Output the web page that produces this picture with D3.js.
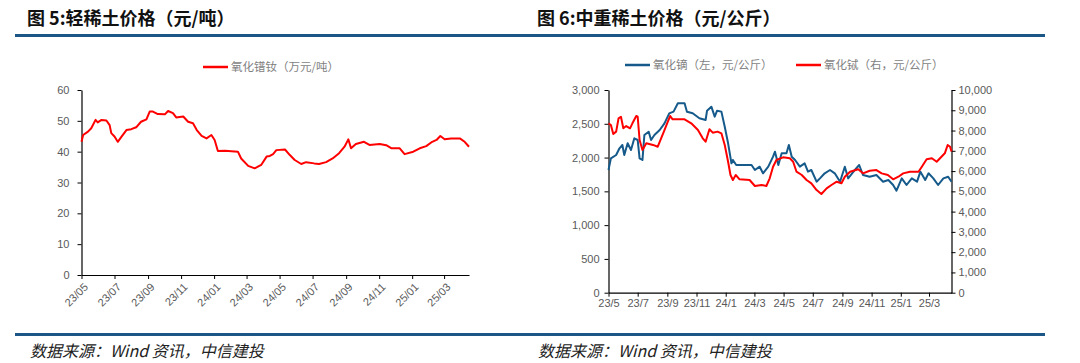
<!DOCTYPE html>
<html>
<head>
<meta charset="utf-8">
<style>
  body { margin: 0; background: #ffffff; }
  svg { display: block; }
  .tick text { font-family: "Liberation Sans", Arial, sans-serif; fill: #595959; }
</style>
<script src="https://d3js.org/d3.v7.min.js"></script>
</head>
<body>
<svg id="chart" width="1080" height="363"></svg>
<script>
// 氧化镨钕 (万元/吨)
let prDates = ["2023-05-01","2023-05-04","2023-05-13","2023-05-19","2023-05-27","2023-05-31","2023-06-07","2023-06-16",
  "2023-06-22","2023-06-25","2023-07-01","2023-07-07","2023-07-14","2023-07-23","2023-08-01","2023-08-10","2023-08-19",
  "2023-08-29","2023-09-04","2023-09-10","2023-09-19","2023-10-02","2023-10-08","2023-10-17","2023-10-23","2023-11-05",
  "2023-11-14","2023-11-23","2023-11-30","2023-12-09","2023-12-18","2023-12-27","2024-01-02","2024-01-08","2024-01-21",
  "2024-02-14","2024-02-20","2024-03-04","2024-03-16","2024-03-28","2024-04-07","2024-04-13","2024-04-19","2024-04-25",
  "2024-05-11","2024-05-20","2024-05-29","2024-06-10","2024-06-19","2024-07-04","2024-07-13","2024-07-26","2024-08-07",
  "2024-08-19","2024-08-29","2024-09-05","2024-09-10","2024-09-19","2024-10-04","2024-10-14","2024-11-02","2024-11-14",
  "2024-11-24","2024-12-09","2024-12-18","2025-01-03","2025-01-15","2025-01-27","2025-02-07","2025-02-15","2025-02-22",
  "2025-03-02","2025-03-14","2025-03-30","2025-04-08","2025-04-16"]
let prValues = [43.2,45.4,46.5,47.6,50.3,49.5,50.3,50.1,
  48.6,46.0,44.9,43.2,44.9,47.0,47.3,47.9,49.7,
  50.5,53.0,53.0,52.2,52.1,53.2,52.5,51.1,51.4,
  49.7,49.2,47.0,45.1,44.3,45.4,43.8,40.2,40.3,
  40.0,37.8,35.4,34.6,35.7,38.4,38.6,39.2,40.5,
  40.7,38.9,37.3,36.0,36.6,36.2,36.0,36.6,37.8,
  39.5,41.6,44.0,41.1,42.5,43.2,42.2,42.5,42.1,
  41.1,41.1,39.2,40.0,41.1,41.8,43.2,43.8,45.1,
  44.0,44.3,44.3,43.2,41.6]
let leftYTicks = [0, 10, 20, 30, 40, 50, 60]
let leftXTicks = ["2023-05-01","2023-07-01","2023-09-01","2023-11-01","2024-01-01","2024-03-01",
  "2024-05-01","2024-07-01","2024-09-01","2024-11-01","2025-01-01","2025-03-01"]

// 氧化镝 (左, 元/公斤)
let dyDates = ["2023-05-01","2023-05-06","2023-05-17","2023-05-24","2023-05-30","2023-06-03","2023-06-10","2023-06-17",
  "2023-06-24","2023-07-01","2023-07-05","2023-07-11","2023-07-15","2023-07-24","2023-07-29","2023-08-05","2023-08-16",
  "2023-08-26","2023-09-05","2023-09-14","2023-09-23","2023-10-07","2023-10-12","2023-10-24","2023-11-07","2023-11-20",
  "2023-11-23","2023-12-02","2023-12-09","2023-12-14","2023-12-23","2023-12-30","2024-01-06","2024-01-13","2024-01-16",
  "2024-01-23","2024-02-24","2024-03-02","2024-03-12","2024-03-19","2024-03-30","2024-04-09","2024-04-13","2024-04-20",
  "2024-04-27","2024-05-07","2024-05-12","2024-05-18","2024-05-25","2024-06-04","2024-06-14","2024-06-21","2024-06-28",
  "2024-07-09","2024-07-16","2024-07-26","2024-08-06","2024-08-16","2024-08-27","2024-09-06","2024-09-13","2024-09-27",
  "2024-10-06","2024-10-14","2024-10-28","2024-11-11","2024-11-25","2024-12-06","2024-12-16","2024-12-23","2025-01-03",
  "2025-01-13","2025-01-24","2025-02-04","2025-02-11","2025-02-21","2025-02-28","2025-03-10","2025-03-20","2025-03-31",
  "2025-04-10","2025-04-17"]
let dyValues = [1816,1989,2038,2137,2186,2038,2211,2112,
  2285,2260,1989,1964,2334,2383,2260,2334,2408,
  2507,2655,2680,2803,2803,2679,2655,2581,2557,
  2694,2753,2605,2694,2680,2457,2211,1915,1964,
  1890,1890,1816,1865,1767,1865,2013,2087,1890,
  2063,2063,2186,2013,1964,1865,1915,1791,1816,
  1643,1692,1767,1816,1767,1643,1865,1692,1816,
  1890,1742,1717,1742,1643,1668,1594,1510,1692,
  1594,1692,1643,1791,1668,1767,1692,1594,1692,
  1717,1643]

// 氧化铽 (右, 元/公斤)
let tbDates = ["2023-05-01","2023-05-06","2023-05-11","2023-05-17","2023-05-22","2023-05-27","2023-06-01","2023-06-07",
  "2023-06-15","2023-06-20","2023-06-28","2023-07-01","2023-07-05","2023-07-11","2023-07-19","2023-08-02","2023-08-12",
  "2023-08-19","2023-08-26","2023-09-02","2023-09-07","2023-09-12","2023-10-07","2023-10-21","2023-11-04","2023-11-14",
  "2023-11-20","2023-11-28","2023-12-05","2023-12-15","2023-12-23","2023-12-30","2024-01-06","2024-01-11","2024-01-16",
  "2024-01-22","2024-01-30","2024-02-20","2024-03-02","2024-03-16","2024-03-26","2024-04-02","2024-04-09","2024-04-16",
  "2024-04-30","2024-05-14","2024-05-21","2024-05-28","2024-06-08","2024-06-18","2024-06-28","2024-07-09","2024-07-19",
  "2024-07-30","2024-08-09","2024-08-20","2024-08-30","2024-09-06","2024-09-17","2024-10-04","2024-10-14","2024-10-28",
  "2024-11-11","2024-11-22","2024-12-05","2024-12-16","2024-12-27","2025-01-06","2025-01-20","2025-02-07","2025-02-14",
  "2025-02-24","2025-03-07","2025-03-17","2025-03-27","2025-04-03","2025-04-09","2025-04-14","2025-04-17"]
let tbValues = [8356,8273,7829,7946,8603,8682,8110,8223,
  8110,8356,8717,8682,7533,7040,7370,7290,7203,
  7616,8026,8436,8717,8554,8554,8356,8026,7616,
  7449,8060,7896,7946,7864,7286,6462,5806,5559,
  5806,5594,5559,5263,5313,5263,5643,6216,6546,
  6679,6630,6462,5969,5806,5559,5397,5066,4869,
  5150,5313,5476,5397,5722,5969,6087,5888,6018,
  6050,5888,5806,5594,5722,5888,5969,5969,6216,
  6581,6630,6462,6709,6877,7286,7203,6962]
let dyTicks = [0, 500, 1000, 1500, 2000, 2500, 3000]
let tbTicks = [0, 1000, 2000, 3000, 4000, 5000, 6000, 7000, 8000, 9000, 10000]
let rightXTicks = leftXTicks
let rightXLabels = ["23/5","23/7","23/9","23/11","24/1","24/3","24/5","24/7","24/9","24/11","25/1","25/3"]

let titles = ["图 5:轻稀土价格（元/吨）", "图 6:中重稀土价格（元/公斤）"]
let sourceText = "数据来源：Wind 资讯，中信建投"

const parse = d3.timeParse("%Y-%m-%d")
const RED = "#ff0000", BLUE = "#155a8a", RULE = "#1b5686", GREY = "#595959"
const cjk = '"Noto Sans CJK SC", "Noto Sans", sans-serif'

let svg = d3.select("#chart")

// headers and footers
titles.forEach((t, i) => {
  svg.append("text").attr("x", i ? 537 : 27).attr("y", 25)
    .style("font-family", cjk).style("font-weight", "bold").style("font-size", "18px")
    .attr("fill", "#111").text(t)
  svg.append("text").attr("x", i ? 538 : 30).attr("y", 357)
    .style("font-family", cjk).style("font-style", "italic").style("font-size", "16px")
    .attr("fill", "#222").text(sourceText)
})
svg.append("rect").attr("x", 15).attr("y", 34).attr("width", 1030).attr("height", 3).attr("fill", RULE)
svg.append("rect").attr("x", 15).attr("y", 333).attr("width", 1030).attr("height", 3).attr("fill", RULE)

function legendItem(x, y, color, label) {
  svg.append("line").attr("x1", x).attr("x2", x + 25).attr("y1", y).attr("y2", y)
    .attr("stroke", color).attr("stroke-width", 2.5)
  svg.append("text").attr("x", x + 28).attr("y", y + 4)
    .style("font-family", cjk).style("font-size", "11.5px").attr("fill", "#7f7f7f").text(label)
}

function styleAxis(g) {
  g.select(".domain").attr("stroke", "#000").attr("stroke-width", 1.2)
  g.selectAll(".tick line").attr("stroke", "#000")
  g.selectAll(".tick text").style("font-size", "11px").attr("fill", GREY)
}

// ---- left chart ----
{
  let x = d3.scaleTime().domain([parse("2023-05-01"), parse("2025-04-16")]).range([81.5, 469])
  let y = d3.scaleLinear().domain([0, 60]).range([275, 90])

  legendItem(203, 67, RED, "氧化镨钕（万元/吨）")

  let gx = svg.append("g").attr("transform", "translate(0,275)")
    .call(d3.axisBottom(x).tickValues(leftXTicks.map(parse)).tickFormat(d3.timeFormat("%y/%m")).tickSize(4).tickSizeOuter(0))
  styleAxis(gx)
  gx.selectAll(".tick text").attr("text-anchor", "end")
    .attr("transform", "translate(4,10) rotate(-45)").attr("dy", "0.35em").attr("y", 0).attr("x", 0)

  let gy = svg.append("g").attr("transform", "translate(81.5,0)")
    .call(d3.axisLeft(y).tickValues(leftYTicks).tickSize(4).tickPadding(8).tickSizeOuter(0))
  styleAxis(gy)

  let line = d3.line().x(d => x(d[0])).y(d => y(d[1]))
  svg.append("path").datum(prDates.map((d, i) => [parse(d), prValues[i]]))
    .attr("d", line).attr("fill", "none").attr("stroke", RED).attr("stroke-width", 2)
    .attr("stroke-linejoin", "round")
}

// ---- right chart ----
{
  let x = d3.scaleTime().domain([parse("2023-05-01"), parse("2025-04-17")]).range([608.5, 951.5])
  let yL = d3.scaleLinear().domain([0, 3000]).range([292.7, 90])
  let yR = d3.scaleLinear().domain([0, 10000]).range([292.7, 90])

  legendItem(625, 65, BLUE, "氧化镝（左，元/公斤）")
  legendItem(796, 65, RED, "氧化铽（右，元/公斤）")

  let gx = svg.append("g").attr("transform", "translate(0,292.7)")
    .call(d3.axisBottom(x).tickValues(rightXTicks.map(parse)).tickFormat((d, i) => rightXLabels[i]).tickSize(4).tickPadding(3).tickSizeOuter(0))
  styleAxis(gx)

  let gl = svg.append("g").attr("transform", "translate(608.5,0)")
    .call(d3.axisLeft(yL).tickValues(dyTicks).tickFormat(d3.format(",")).tickSize(4).tickPadding(5).tickSizeOuter(0))
  styleAxis(gl)

  let gr = svg.append("g").attr("transform", "translate(951.5,0)")
    .call(d3.axisRight(yR).tickValues(tbTicks).tickFormat(d3.format(",")).tickSize(4).tickPadding(3).tickSizeOuter(0))
  styleAxis(gr)

  let lineL = d3.line().x(d => x(d[0])).y(d => yL(d[1]))
  let lineR = d3.line().x(d => x(d[0])).y(d => yR(d[1]))
  svg.append("path").datum(dyDates.map((d, i) => [parse(d), dyValues[i]]))
    .attr("d", lineL).attr("fill", "none").attr("stroke", BLUE).attr("stroke-width", 2)
    .attr("stroke-linejoin", "round")
  svg.append("path").datum(tbDates.map((d, i) => [parse(d), tbValues[i]]))
    .attr("d", lineR).attr("fill", "none").attr("stroke", RED).attr("stroke-width", 2)
    .attr("stroke-linejoin", "round")
}
</script>
</body>
</html>
